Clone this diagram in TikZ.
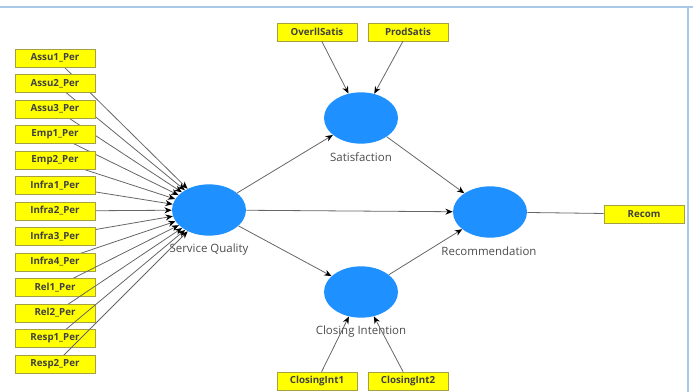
\documentclass[tikz,border=0pt]{standalone}
\usepackage{fontspec}
\setsansfont{Open Sans}
\usetikzlibrary{arrows.meta,shapes.geometric}
\definecolor{lvblue}{RGB}{30,144,255}
\definecolor{indyel}{RGB}{255,255,0}
\definecolor{frameblue}{RGB}{170,200,232}
\begin{document}
\begin{tikzpicture}[x=0.75pt,y=-0.75pt,
    ind/.style={draw=yellow!60!black,fill=indyel,minimum width=60pt,minimum height=13.5pt,
        inner sep=0pt,font=\sffamily\bfseries\fontsize{7.3}{8}\selectfont,text=black!75},
    lv/.style={ellipse,fill=lvblue,minimum width=55.5pt,minimum height=38.5pt,inner sep=0pt},
    lvlabel/.style={font=\sffamily\fontsize{8.6}{10}\selectfont,text=black!70},
    path/.style={draw=gray!80!black,line width=0.6pt,-{Stealth[color=black,length=5.5pt,width=4.5pt]}}]
    \useasboundingbox (0,0) rectangle (693,392);
    %% frame lines
    \draw[frameblue,line width=0.8pt] (0,7) -- (693,7);
    \draw[frameblue,line width=0.8pt] (688,7) -- (688,392);
    %% latent variables
    \node[lv] (sq) at (209,210) {};
    \node[lv] (sat) at (361,118) {};
    \node[lv] (rec) at (490,212) {};
    \node[lv] (ci) at (361,292) {};
    \node[lvlabel] at (209,250) {Service Quality};
    \node[lvlabel] at (361,157) {Satisfaction};
    \node[lvlabel] at (489,251) {Recommendation};
    \node[lvlabel] at (361,332) {Closing Intention};
    %% formative indicators of service quality
    \foreach \name [count=\i from 0] in {Assu1\_Per,Assu2\_Per,Assu3\_Per,Emp1\_Per,Emp2\_Per,
        Infra1\_Per,Infra2\_Per,Infra3\_Per,Infra4\_Per,Rel1\_Per,Rel2\_Per,Resp1\_Per,Resp2\_Per}{
        \coordinate (sqi\i) at (55,58+25.5*\i);
        \draw[path] (sqi\i) -- (sq);
        \node[ind] at (sqi\i) {\name};
    }
    %% reflective indicators
    \node[ind] (overll) at (317,32) {OverllSatis};
    \node[ind] (prod) at (408,32) {ProdSatis};
    \node[ind] (cint1) at (317,381) {ClosingInt1};
    \node[ind] (cint2) at (408,381) {ClosingInt2};
    \node[ind] (recom) at (644,214) {Recom};
    \draw[path] (overll) -- (sat);
    \draw[path] (prod) -- (sat);
    \draw[path] (cint1) -- (ci);
    \draw[path] (cint2) -- (ci);
    \draw[draw=gray!80!black,line width=0.6pt] (rec) -- (recom);
    %% structural paths
    \draw[path] (sq) -- (sat);
    \draw[path] (sq) -- (rec);
    \draw[path] (sq) -- (ci);
    \draw[path] (sat) -- (rec);
    \draw[path] (ci) -- (rec);
\end{tikzpicture}
\end{document}
